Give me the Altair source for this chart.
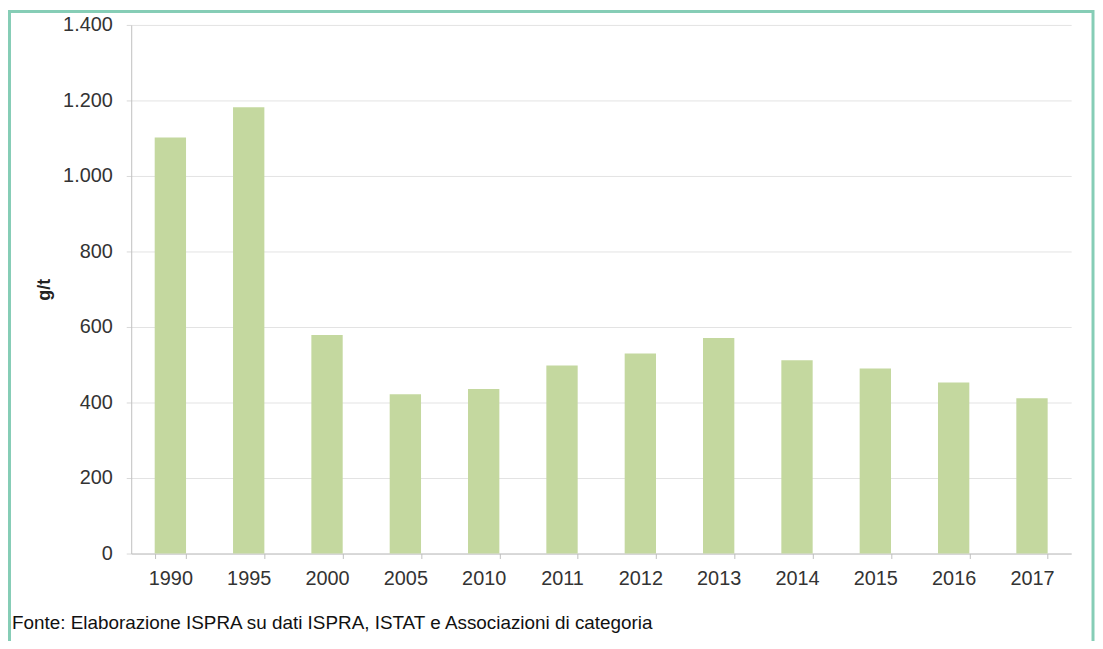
import altair as alt
import pandas as pd

years = ["1990", "1995", "2000", "2005", "2010", "2011", "2012", "2013", "2014", "2015", "2016", "2017"]
values = [1102, 1182, 579, 422, 436, 498, 530, 571, 512, 490, 453, 411]
y_ticks = [0, 200, 400, 600, 800, 1000, 1200, 1400]
y_title = "g/t"
source_note = "Fonte: Elaborazione ISPRA su dati ISPRA, ISTAT e Associazioni di categoria"

df = pd.DataFrame({"anno": years, "valore": values})

FONT = "Liberation Sans"
W, H = 946, 532

bars = alt.Chart(df).mark_bar(color="#c4d89f").encode(
    x=alt.X(
        "anno:N",
        sort=years,
        title=None,
        scale=alt.Scale(paddingInner=0.6, paddingOuter=0.3),
        axis=alt.Axis(
            labelAngle=0,
            labelFont=FONT,
            labelFontSize=20,
            labelColor="#333333",
            labelPadding=10,
            labelBaseline="top",
            tickBand="extent",
            tickSize=5,
            tickColor="#bfbfbf",
            domainColor="#bfbfbf",
            grid=False,
        ),
    ),
    y=alt.Y(
        "valore:Q",
        title=y_title,
        scale=alt.Scale(domain=[0, 1400], nice=False),
        axis=alt.Axis(
            values=y_ticks,
            labelExpr="replace(format(datum.value, ','), ',', '.')",
            labelFont=FONT,
            labelFontSize=20,
            labelColor="#333333",
            labelPadding=14,
            tickSize=5,
            tickColor="#d9d9d9",
            domainColor="#bfbfbf",
            gridColor="#e3e3e3",
            titleFont=FONT,
            titleFontSize=18,
            titleFontWeight="bold",
            titleColor="#222222",
            titleX=-87,
            titleY=266,
            titleAlign="center",
            titleBaseline="middle",
            titleAngle=270,
        ),
    ),
)

border = alt.Chart(pd.DataFrame({"k": [0]})).mark_rect(
    fill=None, stroke="#86cdb6", strokeWidth=3
).encode(
    x=alt.value(-122.5),
    x2=alt.value(968),
    y=alt.value(-13.5),
    y2=alt.value(700),
)

note = alt.Chart(pd.DataFrame({"t": [source_note]})).mark_text(
    align="left", baseline="alphabetic", font=FONT, fontSize=19, color="#111111"
).encode(
    x=alt.value(-120),
    y=alt.value(608),
    text="t:N",
)

chart = alt.layer(bars, note, border).properties(
    width=W,
    height=H,
    padding={"left": 124, "top": 15, "right": 24, "bottom": 86},
    autosize=alt.AutoSizeParams(type="none"),
    background="white",
).configure_view(stroke=None)

chart.save("out.html", embed_options={"renderer": "svg", "actions": False})
